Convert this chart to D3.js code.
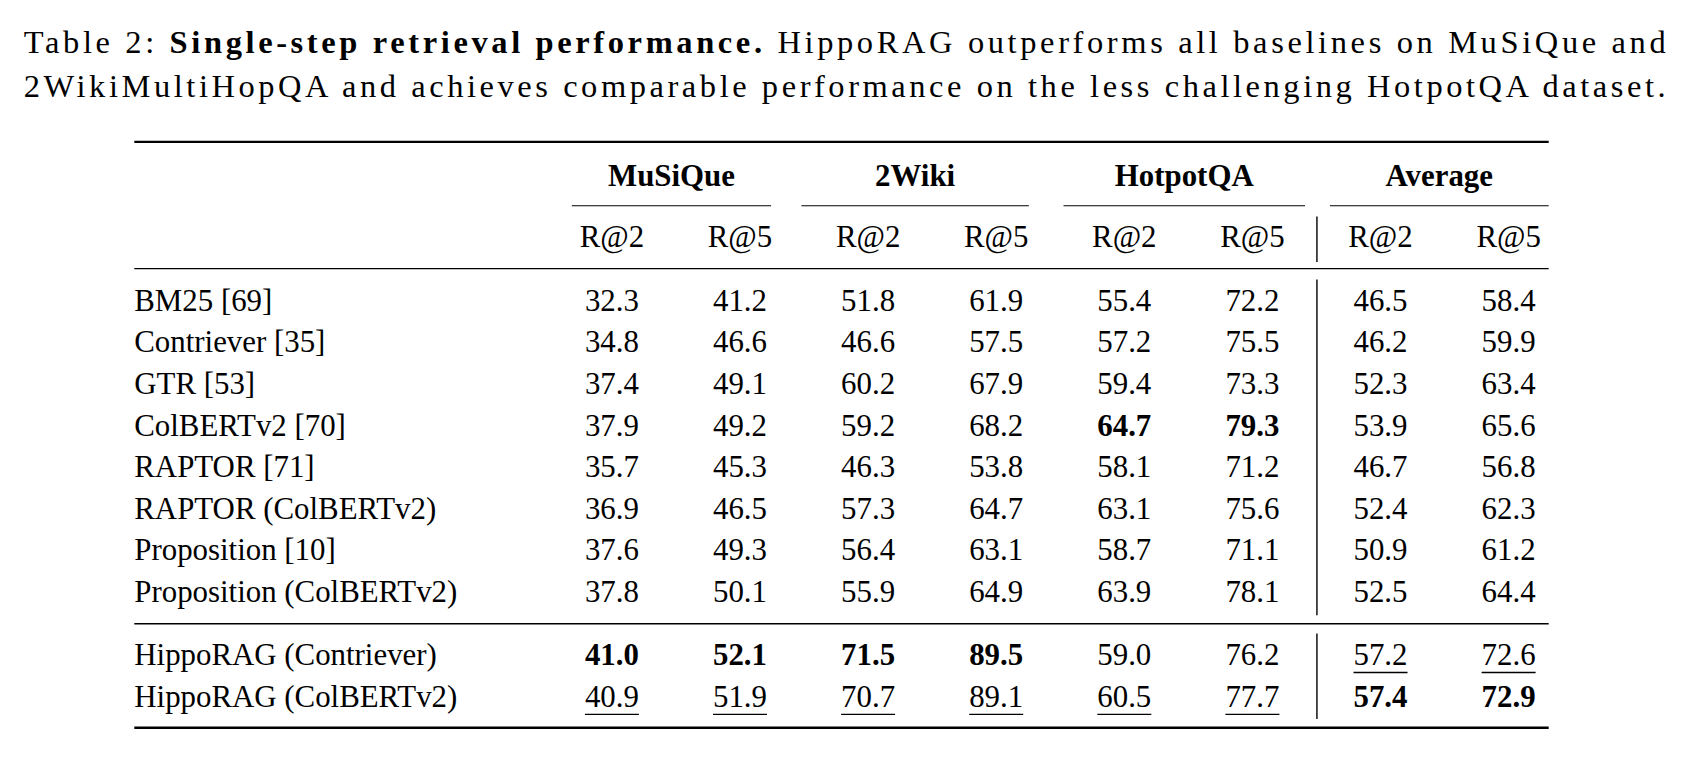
<!DOCTYPE html>
<html>
<head>
<meta charset="utf-8">
<script src="https://cdn.jsdelivr.net/npm/d3@7"></script>
<style>
  body { margin: 0; background: #fff; }
  svg text { font-family: "Liberation Serif", "DejaVu Serif", serif; fill: #000; }
</style>
</head>
<body>
<svg id="chart" width="1698" height="762"></svg>
<script>
// ---- data ----
const datasets = ['MuSiQue', '2Wiki', 'HotpotQA', 'Average'];
const metrics = ['R@2', 'R@5'];
const methods = ['BM25 [69]', 'Contriever [35]', 'GTR [53]', 'ColBERTv2 [70]', 'RAPTOR [71]',
                 'RAPTOR (ColBERTv2)', 'Proposition [10]', 'Proposition (ColBERTv2)'];
const hippoMethods = ['HippoRAG (Contriever)', 'HippoRAG (ColBERTv2)'];
const values = [
    ['32.3','41.2','51.8','61.9','55.4','72.2','46.5','58.4'],
    ['34.8','46.6','46.6','57.5','57.2','75.5','46.2','59.9'],
    ['37.4','49.1','60.2','67.9','59.4','73.3','52.3','63.4'],
    ['37.9','49.2','59.2','68.2','64.7','79.3','53.9','65.6'],
    ['35.7','45.3','46.3','53.8','58.1','71.2','46.7','56.8'],
    ['36.9','46.5','57.3','64.7','63.1','75.6','52.4','62.3'],
    ['37.6','49.3','56.4','63.1','58.7','71.1','50.9','61.2'],
    ['37.8','50.1','55.9','64.9','63.9','78.1','52.5','64.4']
];
const hippoValues = [
    ['41.0','52.1','71.5','89.5','59.0','76.2','57.2','72.6'],
    ['40.9','51.9','70.7','89.1','60.5','77.7','57.4','72.9']
];
// style flags: b = bold, u = underline
const baseStyle = [
    ['','','','','','','',''],
    ['','','','','','','',''],
    ['','','','','','','',''],
    ['','','','','b','b','',''],
    ['','','','','','','',''],
    ['','','','','','','',''],
    ['','','','','','','',''],
    ['','','','','','','','']
];
const hippoStyle = [
    ['b','b','b','b','','','u','u'],
    ['u','u','u','u','u','u','b','b']
];
const captionBold = 'Single-step retrieval performance.';
const captionLine1 = ' HippoRAG outperforms all baselines on MuSiQue and';
const captionLine2 = '2WikiMultiHopQA and achieves comparable performance on the less challenging HotpotQA dataset.';

// ---- layout ----
const root = d3.select('#chart').append('g').attr('transform', 'scale(1.083)');
const fs = 28.5;
const left = 124, right = 1430;
const colX = d3.scalePoint().domain(d3.range(8)).range([565, 1393]);
const groupSpans = [[528, 712], [740, 950], [982, 1205], [1228, 1430]];
const rowY = d3.scaleLinear().domain([0, 1]).range([287, 325.4]);

// caption
const c1 = root.append('text').attr('x', 22).attr('y', 49).attr('font-size', 30)
    .attr('textLength', 1516).attr('lengthAdjust', 'spacing');
c1.append('tspan').text('Table 2: ');
c1.append('tspan').attr('font-weight', 'bold').text(captionBold);
c1.append('tspan').text(captionLine1);
root.append('text').attr('x', 22).attr('y', 90).attr('font-size', 30)
    .attr('textLength', 1516).attr('lengthAdjust', 'spacing').text(captionLine2);

function rule(y, x1, x2, w) {
    root.append('line').attr('x1', x1).attr('x2', x2).attr('y1', y).attr('y2', y)
        .attr('stroke', '#000').attr('stroke-width', w);
}
rule(131, left, right, 2.2);
rule(248, left, right, 1.3);
rule(576, left, right, 1.3);
rule(672, left, right, 2.2);
groupSpans.forEach(s => rule(190, s[0], s[1], 1.1));

// group headers
root.selectAll('.grp').data(datasets).join('text')
    .attr('x', (d, i) => (groupSpans[i][0] + groupSpans[i][1]) / 2)
    .attr('y', 172).attr('text-anchor', 'middle').attr('font-size', fs)
    .attr('font-weight', 'bold').text(d => d);

// metric headers
root.selectAll('.met').data(d3.range(8)).join('text')
    .attr('x', d => colX(d)).attr('y', 228).attr('text-anchor', 'middle')
    .attr('font-size', fs).text(d => metrics[d % 2]);

// vertical separator
const sepX = 1216;
[[200, 242], [258, 568], [585, 664]].forEach(s => {
    root.append('line').attr('x1', sepX).attr('x2', sepX).attr('y1', s[0]).attr('y2', s[1])
        .attr('stroke', '#000').attr('stroke-width', 1.3);
});

function drawRow(name, vals, styles, y) {
    root.append('text').attr('x', left).attr('y', y).attr('font-size', fs).text(name);
    vals.forEach((v, j) => {
        const st = styles[j];
        const t = root.append('text').attr('x', colX(j)).attr('y', y)
            .attr('text-anchor', 'middle').attr('font-size', fs)
            .attr('font-weight', st === 'b' ? 'bold' : null).text(v);
        if (st === 'u') {
            const w = t.node().getComputedTextLength();
            rule(y + 7, colX(j) - w / 2, colX(j) + w / 2, 1.3);
        }
    });
}

methods.forEach((m, i) => drawRow(m, values[i], baseStyle[i], rowY(i)));
hippoMethods.forEach((m, i) => drawRow(m, hippoValues[i], hippoStyle[i], 614 + i * 38.6));
</script>
</body>
</html>
